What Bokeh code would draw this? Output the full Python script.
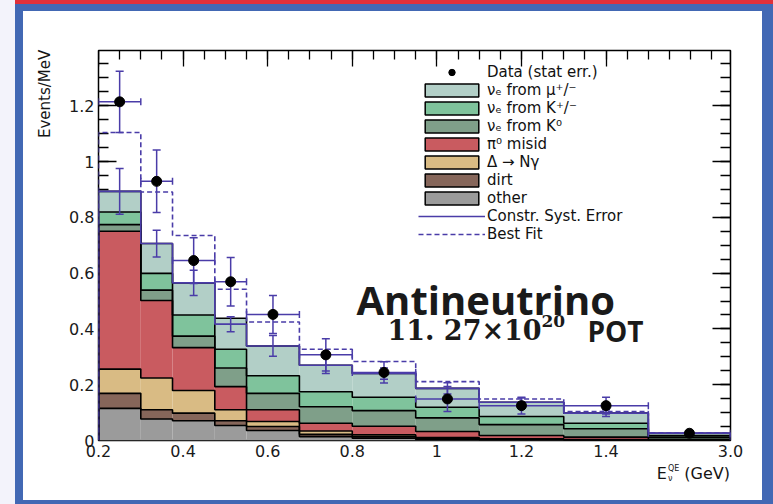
import numpy as np
from bokeh.plotting import figure
from bokeh.layouts import row, column
from bokeh.models import (FixedTicker, LinearAxis, Range1d, Legend, LegendItem,
                          Label, Div)
from bokeh.embed import file_html
from bokeh.resources import INLINE

# ---------------------------------------------------------------------------
# Data: reconstructed neutrino energy bins (GeV) and rates (Events/MeV)
# ---------------------------------------------------------------------------
bin_edges = [0.2, 0.3, 0.375, 0.475, 0.55, 0.675, 0.8, 0.95, 1.1, 1.3, 1.5, 3.0]

# stacked predictions, bottom layer first
other        = [0.115, 0.077, 0.071, 0.054, 0.036, 0.014, 0.008, 0.004, 0.002, 0.001, 0.0005]
dirt         = [0.054, 0.033, 0.027, 0.017, 0.014, 0.008, 0.005, 0.003, 0.002, 0.001, 0.0005]
delta_ngamma = [0.087, 0.114, 0.081, 0.039, 0.018, 0.012, 0.007, 0.004, 0.002, 0.001, 0.0005]
pi0_misid    = [0.494, 0.278, 0.154, 0.083, 0.042, 0.028, 0.031, 0.021, 0.012, 0.009, 0.0025]
nue_k0       = [0.024, 0.037, 0.041, 0.067, 0.059, 0.059, 0.056, 0.049, 0.039, 0.030, 0.008]
nue_kpm      = [0.045, 0.060, 0.076, 0.067, 0.063, 0.054, 0.048, 0.038, 0.029, 0.020, 0.006]
nue_mu       = [0.074, 0.107, 0.115, 0.111, 0.107, 0.095, 0.085, 0.068, 0.051, 0.036, 0.008]

constrained  = [0.893, 0.706, 0.565, 0.417, 0.339, 0.270, 0.240, 0.187, 0.137, 0.098, 0.026]
syst_err     = [0.082, 0.048, 0.045, 0.027, 0.037, 0.030, 0.020, 0.020, 0.015, 0.012, 0.004]
best_fit     = [1.104, 0.891, 0.735, 0.542, 0.425, 0.327, 0.283, 0.211, 0.149, 0.104, 0.028]

data         = [1.214, 0.929, 0.645, 0.569, 0.452, 0.307, 0.244, 0.149, 0.125, 0.125, 0.026]
data_err     = [0.110, 0.112, 0.082, 0.087, 0.068, 0.058, 0.038, 0.045, 0.030, 0.030, 0.006]

x_tick_values = [0.2, 0.4, 0.6, 0.8, 1.0, 1.2, 1.4, 3.0]
x_tick_labels = ["0.2", "0.4", "0.6", "0.8", "1", "1.2", "1.4", "3.0"]
y_tick_values = [0.0, 0.2, 0.4, 0.6, 0.8, 1.0, 1.2]
y_tick_labels = ["0", "0.2", "0.4", "0.6", "0.8", "1", "1.2"]

layer_names = ["other", "dirt", "\u0394 \u2192 N\u03b3", "\u03c0\u2070 misid",
               "\u03bd\u2091 from K\u2070", "\u03bd\u2091 from K\u207a/\u207b",
               "\u03bd\u2091 from \u03bc\u207a/\u207b"]
layer_values = [other, dirt, delta_ngamma, pi0_misid, nue_k0, nue_kpm, nue_mu]
layer_colors = ["#9b9b9b", "#86665a", "#d9bb84", "#c95b60", "#7f9f89", "#7fc39c", "#b2cfc7"]

# ---------------------------------------------------------------------------
# Axis transform: linear up to 1.5 GeV, the 1.5-3.0 GeV bin is squeezed
# ---------------------------------------------------------------------------
LINEAR_END = 1.5
TAIL_SCALE = 0.1295


def axis_pos(e):
    e = np.asarray(e, dtype=float)
    return np.where(e <= LINEAR_END, e, LINEAR_END + (e - LINEAR_END) * TAIL_SCALE)


U_END = float(axis_pos(3.0))
YMAX = 1.398

# page geometry (pixels)
PAGE_W, PAGE_H = 773, 504
PANEL_X, PANEL_Y, PANEL_W, PANEL_H = 23, 11, 739, 489      # white panel
YTITLE_W = 30
FIG_X, FIG_Y = PANEL_X + YTITLE_W, PANEL_Y
FIG_W, FIG_H = PANEL_W - YTITLE_W, 453
FRAME_L, FRAME_R, FRAME_T, FRAME_B = 98, 730, 50, 440

BLUE = "#4a3ca8"
FONT = "DejaVu Sans"

p = figure(width=FIG_W, height=FIG_H, output_backend="svg", toolbar_location=None,
           x_range=Range1d(0.2, U_END), y_range=Range1d(0, YMAX),
           x_axis_location=None, y_axis_location=None,
           min_border_left=FRAME_L - FIG_X, min_border_right=FIG_X + FIG_W - FRAME_R,
           min_border_top=FRAME_T - FIG_Y, min_border_bottom=FIG_Y + FIG_H - FRAME_B)
p.grid.grid_line_color = None
p.outline_line_color = "black"
p.outline_line_width = 1.5
p.background_fill_color = "white"
p.border_fill_color = "white"


def px_to_x(px):
    return 0.2 + (px - FRAME_L) * (U_END - 0.2) / (FRAME_R - FRAME_L)


def px_to_y(py):
    return (FRAME_B - py) * YMAX / (FRAME_B - FRAME_T)


# ---------------------------------------------------------------------------
# Axes: inward ticks sit beneath the histograms, labels on top
# ---------------------------------------------------------------------------
x_major = [float(v) for v in axis_pos(x_tick_values)]
x_minor = [float(v) for v in np.arange(0.2, U_END + 1e-9, 0.05)]
y_minor = [float(v) for v in np.arange(0.0, YMAX, 0.05)]


def tick_axis(major, minor, tin, tmin):
    return LinearAxis(ticker=FixedTicker(ticks=major, minor_ticks=minor),
                      major_label_overrides={m: "" for m in major},
                      axis_line_color=None,
                      major_tick_in=tin, major_tick_out=0, minor_tick_in=tmin, minor_tick_out=0,
                      major_tick_line_color="black", major_tick_line_width=1.3,
                      minor_tick_line_color="black", minor_tick_line_width=1.3,
                      major_label_standoff=0, major_label_text_font_size="1px",
                      level="underlay")


def label_axis(major, labels):
    return LinearAxis(ticker=FixedTicker(ticks=major, minor_ticks=[]),
                      major_label_overrides=dict(zip(major, labels)),
                      axis_line_color=None,
                      major_tick_in=0, major_tick_out=0, minor_tick_in=0, minor_tick_out=0,
                      major_label_standoff=4,
                      major_label_text_font=FONT, major_label_text_font_size="16px",
                      major_label_text_color="#1a1a1a")


p.add_layout(tick_axis(y_tick_values, y_minor, 18, 10), "left")
p.add_layout(label_axis(y_tick_values, y_tick_labels), "left")
p.add_layout(tick_axis(y_tick_values, y_minor, 18, 10), "right")
p.add_layout(tick_axis(x_major, x_minor, 16, 9), "above")
p.add_layout(label_axis(x_major, x_tick_labels), "below")

# ---------------------------------------------------------------------------
# Stacked histograms
# ---------------------------------------------------------------------------
edges_u = axis_pos(bin_edges)
left_u, right_u = edges_u[:-1], edges_u[1:]
centers_u = axis_pos((np.array(bin_edges[:-1]) + np.array(bin_edges[1:])) / 2)


def hist_path(vals):
    xs = np.repeat(edges_u, 2)
    ys = np.concatenate([[0.0], np.repeat(np.asarray(vals, dtype=float), 2), [0.0]])
    return xs, ys


bottom = np.zeros(len(other))
tops = []
for vals, col in zip(layer_values, layer_colors):
    top = bottom + np.asarray(vals)
    p.quad(left=left_u, right=right_u, bottom=bottom, top=top,
           fill_color=col, line_color=None)
    tops.append(top)
    bottom = top

for top in tops:
    xs, ys = hist_path(top)
    p.line(xs, ys, line_color="black", line_width=1.6)

xs, ys = hist_path(best_fit)
fit_line = p.line(xs, ys, line_color=BLUE, line_width=1.6, line_dash="5 3")
xs, ys = hist_path(constrained)
con_line = p.line(xs, ys, line_color=BLUE, line_width=1.6)

# systematic error bars on the constrained prediction
con = np.asarray(constrained)
serr = np.asarray(syst_err)
p.segment(x0=centers_u, x1=centers_u, y0=con - serr, y1=con + serr,
          line_color=BLUE, line_width=1.5)
p.scatter(np.concatenate([centers_u, centers_u]), np.concatenate([con - serr, con + serr]),
          marker="dash", size=8, line_color=BLUE, line_width=1.5)

# data with statistical errors and bin-width bars
d = np.asarray(data)
derr = np.asarray(data_err)
p.segment(x0=left_u, x1=right_u, y0=d, y1=d, line_color=BLUE, line_width=1.5)
p.scatter(np.concatenate([left_u, right_u]), np.concatenate([d, d]),
          marker="dash", angle=np.pi / 2, size=7, line_color=BLUE, line_width=1.5)
p.segment(x0=centers_u, x1=centers_u, y0=d - derr, y1=d + derr,
          line_color=BLUE, line_width=1.5)
p.scatter(np.concatenate([centers_u, centers_u]), np.concatenate([d - derr, d + derr]),
          marker="dash", size=8, line_color=BLUE, line_width=1.5)
data_pts = p.scatter(centers_u, d, size=10, fill_color="black", line_color="black")

# ---------------------------------------------------------------------------
# Legend (outlined swatches come from position-less proxy quads)
# ---------------------------------------------------------------------------
items = [LegendItem(label="Data (stat err.)", renderers=[data_pts])]
for name, col in reversed(list(zip(layer_names, layer_colors))):
    swatch = p.quad(left=[np.nan], right=[np.nan], top=[np.nan], bottom=[np.nan],
                    fill_color=col, line_color="black", line_width=1.5)
    items.append(LegendItem(label=name, renderers=[swatch]))
items.append(LegendItem(label="Constr. Syst. Error", renderers=[con_line]))
items.append(LegendItem(label="Best Fit", renderers=[fit_line]))

legend = Legend(items=items, location=(320, 197), orientation="vertical",
                glyph_width=67, glyph_height=16, label_height=16, spacing=0,
                padding=0, margin=0, label_standoff=2,
                label_text_font=FONT, label_text_font_size="15px",
                label_text_color="#111111",
                border_line_color=None, background_fill_alpha=0.0)
p.add_layout(legend)

# ---------------------------------------------------------------------------
# Texts inside the frame
# ---------------------------------------------------------------------------
def add_text(px, py, text, size, font, bold=True):
    p.add_layout(Label(x=px_to_x(px), y=px_to_y(py), text=text,
                       text_align="left", text_baseline="alphabetic",
                       text_font=font, text_font_size=size,
                       text_font_style="bold" if bold else "normal",
                       text_color="#1a1a1a"))


add_text(356, 299, "Antineutrino", "40px", "Open Sans")
add_text(387, 330, "11. 27\u00d710", "27px", "DejaVu Serif")
add_text(541, 320, "20", "17px", "DejaVu Serif")
add_text(587, 330, "POT", "28px", "Open Sans")

# ---------------------------------------------------------------------------
# Axis titles and page framing
# ---------------------------------------------------------------------------
TXT = "font-family:'DejaVu Sans';color:#151515;white-space:nowrap;"

y_title = Div(width=YTITLE_W, height=PANEL_H, margin=0,
              styles={"background-color": "white"},
              text=("<div style=\"margin:%dpx 0 0 14px;width:16px;height:100px;"
                    "writing-mode:vertical-rl;transform:rotate(180deg);text-align:end;"
                    "font-size:15px;line-height:16px;%s\">Events/MeV</div>")
                   % (FRAME_T - PANEL_Y, TXT))

x_title = Div(width=FIG_W, height=PANEL_H - FIG_H, margin=0,
              styles={"background-color": "white"},
              text=("<div style=\"display:block;width:%dpx;text-align:right;margin-top:0;"
                    "font-size:16px;line-height:14px;%s\">E"
                    "<span style=\"display:inline-block;vertical-align:middle;margin-left:1px;"
                    "font-size:8px;line-height:10px;text-align:left;\">QE<br>\u03bd</span>"
                    " (GeV)</div>") % (FRAME_R - FIG_X, TXT))


def block(w, h, color):
    return Div(text="", width=w, height=h, margin=0, styles={"background-color": color})


LAVENDER, RED, PANEL_BLUE = "#f3f3fb", "#e0303a", "#4268b4"

panel = row(y_title, column(p, x_title, spacing=0), spacing=0)
framed = column(block(PANEL_W, PANEL_Y - 4, PANEL_BLUE), panel,
                block(PANEL_W, PAGE_H - PANEL_Y - PANEL_H, PANEL_BLUE), spacing=0)
mid = row(block(PANEL_X - 15, PAGE_H - 4, PANEL_BLUE), framed,
          block(PAGE_W - PANEL_X - PANEL_W, PAGE_H - 4, PANEL_BLUE), spacing=0)
page = row(block(15, PAGE_H, LAVENDER),
           column(block(PAGE_W - 15, 4, RED), mid, spacing=0), spacing=0)

open("out.html", "w").write(file_html(page, INLINE))
